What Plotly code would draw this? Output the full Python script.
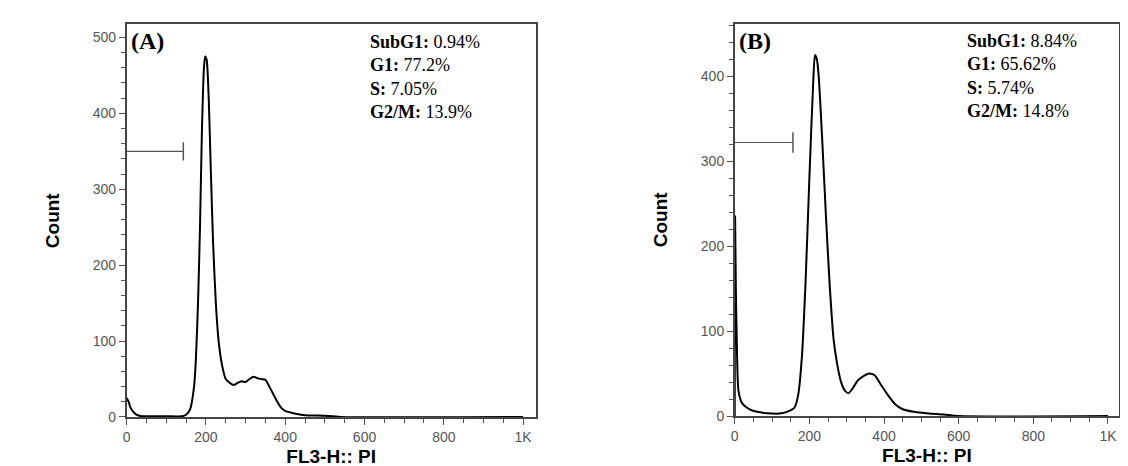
import plotly.graph_objects as go

# panel A histogram (FL3-H PI vs count)
a_x = [0, 5, 10, 20, 30, 40, 100, 140, 150, 160, 170, 175, 180, 185, 190, 195, 198, 202, 207, 212,
       218, 225, 232, 240, 250, 260, 270, 280, 290, 300, 310, 320, 330, 340, 350, 360, 370, 380,
       390, 400, 420, 440, 460, 480, 520, 540, 1000]
a_y = [25, 20, 12, 5, 2, 1, 1, 1, 3, 10, 40, 80, 150, 250, 380, 460, 475, 470, 420, 330,
       230, 150, 100, 70, 50, 45, 42, 45, 47, 46, 50, 53, 51, 50, 49, 40, 30, 20,
       12, 8, 5, 3, 2, 2, 1, 0, 0]

# panel B histogram
b_x = [0, 1, 3, 5, 10, 20, 40, 60, 100, 120, 140, 160, 170, 180, 190, 200, 210, 215, 220, 225,
       235, 245, 255, 265, 275, 285, 295, 305, 315, 330, 345, 360, 375, 390, 410, 430, 450, 480,
       520, 560, 600, 1000]
b_y = [0, 235, 150, 100, 30, 15, 8, 5, 3, 3, 5, 10, 25, 70, 160, 280, 390, 425, 420, 400,
       320, 230, 150, 90, 60, 40, 30, 27, 32, 42, 47, 50, 48, 38, 25, 14, 8, 5,
       3, 2, 0, 0]

gate_a = [0, 143]
gate_a_y = 350
gate_b = [0, 156]
gate_b_y = 322

stats_a = [("SubG1:", "0.94%"), ("G1:", "77.2%"), ("S:", "7.05%"), ("G2/M:", "13.9%")]
stats_b = [("SubG1:", "8.84%"), ("G1:", "65.62%"), ("S:", "5.74%"), ("G2/M:", "14.8%")]

fig = go.Figure()
line = dict(color="black", width=2, shape="spline", smoothing=0.6)
fig.add_trace(go.Scatter(x=a_x, y=a_y, mode="lines", line=line, xaxis="x", yaxis="y"))
fig.add_trace(go.Scatter(x=b_x, y=b_y, mode="lines", line=line, xaxis="x2", yaxis="y2"))
for gx, gy, xa, ya in [(gate_a, gate_a_y, "x", "y"), (gate_b, gate_b_y, "x2", "y2")]:
    fig.add_trace(go.Scatter(x=gx, y=[gy, gy], mode="lines", line=dict(color="#555", width=1.2),
                             xaxis=xa, yaxis=ya))
    fig.add_trace(go.Scatter(x=[gx[1], gx[1]], y=[gy - 12, gy + 12], mode="lines",
                             line=dict(color="#555", width=1.5), xaxis=xa, yaxis=ya))

tickfont = dict(family="Arial", size=14, color="#555")
xcommon = dict(tickvals=[0, 200, 400, 600, 800, 1000], ticktext=["0", "200", "400", "600", "800", "1K"],
               ticks="outside", ticklen=6, tickcolor="#555", minor=dict(dtick=50, ticks="outside", ticklen=4, tickcolor="#555"),
               showline=True, linecolor="#444", linewidth=1.5, mirror=True, showgrid=False, zeroline=False,
               tickfont=tickfont,
               title=dict(text="<b>FL3-H:: PI</b>", font=dict(family="Arial", size=19, color="black"), standoff=6))
ycommon = dict(dtick=100, ticks="outside", ticklen=6, tickcolor="#555",
               minor=dict(dtick=20, ticks="outside", ticklen=4, tickcolor="#555"),
               showline=True, linecolor="#444", linewidth=1.5, mirror=True, showgrid=False, zeroline=False,
               tickfont=tickfont,
               title=dict(text="<b>Count</b>", font=dict(family="Arial", size=19, color="black"), standoff=28))

fig.update_layout(
    width=1128, height=466, showlegend=False,
    paper_bgcolor="white", plot_bgcolor="white",
    margin=dict(l=0, r=0, t=0, b=0),
    xaxis=dict(xcommon, domain=[0.102, 0.466], range=[0, 1032], anchor="y"),
    yaxis=dict(ycommon, domain=[0.107, 0.964], range=[0, 517], anchor="x"),
    xaxis2=dict(xcommon, domain=[0.643, 0.985], range=[0, 1030], anchor="y2"),
    yaxis2=dict(ycommon, domain=[0.109, 0.966], range=[0, 462], anchor="x2"),
)

for label, stats, xref, yref in [("(A)", stats_a, "x", "y"), ("(B)", stats_b, "x2", "y2")]:
    fig.add_annotation(text="<b>" + label + "</b>", xref=xref + " domain", yref=yref + " domain",
                       x=0.005, y=0.995, xanchor="left", yanchor="top", showarrow=False,
                       font=dict(family="Liberation Serif", size=24, color="black"))
    txt = "<br>".join("<b>%s</b> %s" % s for s in stats)
    fig.add_annotation(text=txt, xref=xref + " domain", yref=yref + " domain",
                       x=0.59 if label == "(A)" else 0.6, y=0.985, xanchor="left", yanchor="top",
                       align="left", showarrow=False,
                       font=dict(family="Liberation Serif", size=18, color="black"))

fig.write_html("out.html")
